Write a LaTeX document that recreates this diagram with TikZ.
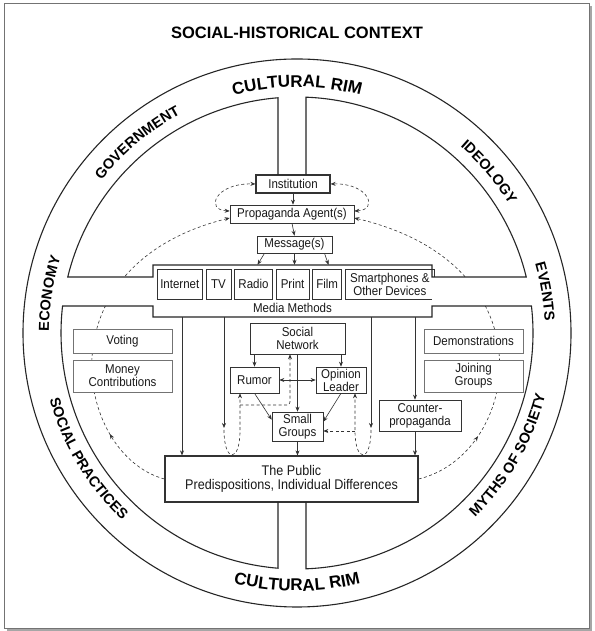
\documentclass[tikz,border=0pt]{standalone}
\usepackage{fontspec}
\setmainfont{Liberation Sans}[FakeStretch=0.9]
\newfontfamily\ringfam{Liberation Sans}
\usetikzlibrary{positioning,arrows.meta,calc,decorations.text,decorations.markings}

\newcommand\boxfont{\fontsize{12.8}{13}\selectfont}
\newcommand\pubfont{\fontsize{14}{14.5}\selectfont}
\newcommand\ringfont{\ringfam\bfseries\fontsize{17}{18}\selectfont}
\newcommand\sidefont{\ringfam\bfseries\fontsize{14.5}{16}\selectfont}

\tikzset{
  blk/.style={draw=black!80, fill=white, line width=0.6pt, inner sep=1pt, align=center, font=\boxfont, text=black!90},
  thickbox/.style={blk, line width=1.2pt},
  sidebox/.style={blk, draw=black!55, line width=0.5pt, minimum width=99pt},
  mitem/.style={blk, minimum height=30pt},
  rim/.style={line width=1.1pt, draw=black!85},
  arr/.style={line width=0.6pt, draw=black!80, -{Stealth[length=5pt,width=4pt]}},
  arrs/.style={line width=0.6pt, draw=black!80, {Stealth[length=5pt,width=4pt]}-{Stealth[length=5pt,width=4pt]}},
  dsh/.style={dash pattern=on 3pt off 2.5pt},
  midarr/.style={postaction={decorate, decoration={markings, mark=at position #1 with {\arrow{Stealth[length=5pt,width=4pt]}}}}},
  ringtext/.style={decorate, decoration={text along path, text align=center, text={|\ringfont|#1}}},
  sidetext/.style={decorate, decoration={text along path, text align=center, text={|\sidefont|#1}}}
}

\begin{document}
\begin{tikzpicture}[x=1pt, y=1pt]
\useasboundingbox (0,0) rectangle (594,631);
% frame with shadow
\fill[black!35] (7,0) rectangle (592,625);
\draw[black!55, fill=white, line width=0.8pt] (4,3) rectangle (589,628);

\def\rin{236}
\def\rout{274}
\def\rtop{246}
\def\rbot{258}
\def\stop{248}
\def\sbot{256}
\coordinate (C) at (297,298);
\pgfmathsetmacro{\aTL}{acos((278-297)/\rin)}
\pgfmathsetmacro{\aTR}{acos((306-297)/\rin)}
\pgfmathsetmacro{\aLU}{180-asin((354-298)/\rin)}
\pgfmathsetmacro{\aLD}{180-asin((325-298)/\rin)}
\pgfmathsetmacro{\aRU}{asin((354-298)/\rin)}
\pgfmathsetmacro{\aRD}{asin((325-298)/\rin)}

\node[font=\ringfam\bfseries\fontsize{16.5}{18}\selectfont] (title) at (297,598) {SOCIAL-HISTORICAL CONTEXT};

% central chain
\node[thickbox, minimum width=74pt, minimum height=18pt] (inst) at (293,447) {Institution};
\node[blk, minimum width=124pt, minimum height=18pt] (agent) at (292,417) {Propaganda Agent(s)};
\node[blk, minimum width=75pt, minimum height=17pt] (msg) at (294.5,386.5) {Message(s)};
\node[minimum width=279pt, minimum height=52pt, inner sep=0pt] (media) at (292.5,340) {};
\node[mitem, minimum width=45pt, anchor=west] (internet) at (157,347) {Internet};
\node[mitem, minimum width=25pt, right=3pt of internet] (tv) {TV};
\node[mitem, minimum width=38pt, right=3pt of tv] (radio) {Radio};
\node[mitem, minimum width=33pt, right=3pt of radio] (print) {Print};
\node[mitem, minimum width=29pt, right=3pt of print] (film) {Film};
\node[mitem, minimum width=89pt, right=3pt of film] (smart) {Smartphones \&\\Other Devices};
\node[font=\boxfont, text=black!90, inner sep=0pt] (mm) at (292.5,323) {Media Methods};

\node[blk, minimum width=95pt, minimum height=31pt] (sn) at (297.5,292.5) {Social\\Network};
\node[blk, minimum width=49pt, minimum height=26pt] (rumor) at (254.5,251) {Rumor};
\node[blk, minimum width=50pt, minimum height=26pt] (ol) at (341,251) {Opinion\\Leader};
\node[blk, minimum width=51pt, minimum height=29pt] (sg) at (297.5,204.5) {Small\\Groups};
\node[blk, minimum width=82pt, minimum height=31pt] (counter) at (420,215.5) {Counter-\\propaganda};
\node[thickbox, minimum width=253pt, minimum height=46pt, font=\pubfont] (pub) at (291.5,152)
  {The Public\\Predispositions, Individual Differences};

% big feedback arcs (drawn first, masked by channels and side boxes)
\draw[arr, dsh, midarr=0.2] (pub.west) .. controls (75,176) and (40,366) .. ([yshift=-4pt]agent.west);
\draw[arr, dsh, midarr=0.2] (pub.east) .. controls (519,176) and (554,366) .. ([yshift=-4pt]agent.east);
\fill[white] (70,325) rectangle (153,354);
\fill[white] (432,325) rectangle (525,354);

% cultural rim
\draw[rim] (C) circle[radius=\rout];
\draw[rim] (278,456) -- ($(C)+(\aTL:\rin)$) arc[start angle=\aTL, end angle=\aLU, radius=\rin]
  -- (153,354) -- (153,366) -- (432,366) -- (432,354)
  -- ($(C)+(\aRU:\rin)$) arc[start angle=\aRU, end angle=\aTR, radius=\rin] -- (306,456);
\draw[rim] (278,129) -- ($(C)+(360-\aTL:\rin)$) arc[start angle=360-\aTL, end angle=\aLD, radius=\rin]
  -- (153,325) -- (153,314) -- (432,314) -- (432,325)
  -- ($(C)+(\aRD:\rin)$) arc[start angle=\aRD, end angle=-\aTR, radius=\rin] -- (306,129);

\path[ringtext=CULTURAL RIM] ($(C)+(135:\rtop)$) arc[start angle=135, end angle=45, radius=\rtop];
\path[sidetext=GOVERNMENT] ($(C)+(175:\stop)$) arc[start angle=175, end angle=85, radius=\stop];
\path[sidetext=IDEOLOGY] ($(C)+(85:\stop)$) arc[start angle=85, end angle=-5, radius=\stop];
\path[sidetext=ECONOMY] ($(C)+(216:\stop)$) arc[start angle=216, end angle=126, radius=\stop];
\path[sidetext=EVENTS] ($(C)+(54.5:\stop)$) arc[start angle=54.5, end angle=-35.5, radius=\stop];
\path[sidetext=SOCIAL PRACTICES] ($(C)+(166:\sbot)$) arc[start angle=166, end angle=256, radius=\sbot];
\path[sidetext=MYTHS OF SOCIETY] ($(C)+(285:\sbot)$) arc[start angle=285, end angle=375, radius=\sbot];
\path[ringtext=CULTURAL RIM] ($(C)+(225:\rbot)$) arc[start angle=225, end angle=315, radius=\rbot];

% behaviours
\node[sidebox, minimum height=24pt] (voting) at (122.5,290) {Voting};
\node[sidebox, minimum height=32pt] (money) at (122.5,255) {Money\\Contributions};
\node[sidebox, minimum height=24pt] (demo) at (473.5,290) {Demonstrations};
\node[sidebox, minimum height=32pt] (joining) at (473.5,255) {Joining\\Groups};

% top of the chain
\draw[arr] (inst.south) -- (inst.south |- agent.north);
\draw[arr] (agent.south) -- (msg.north);
\draw[arrs, dsh] ([yshift=3pt]agent.west) .. controls (205,421) and (215,448) .. (inst.west);
\draw[arrs, dsh] ([yshift=3pt]agent.east) .. controls (379,421) and (369,448) .. (inst.east);
\draw[arr] ([xshift=-30pt]msg.south) -- ([xshift=-35pt]media.north);
\draw[arr] (msg.south) -- (msg.south |- media.north);
\draw[arr] ([xshift=30pt]msg.south) -- ([xshift=36pt]media.north);

% media to the public
\coordinate (lt) at (224,203);
\coordinate (rt) at (371,203);
\coordinate (lj) at (240,226);
\coordinate (rj) at (355,200);
\draw[arr] ([xshift=-110.5pt]media.south) -- ([xshift=-110.5pt]media.south |- pub.north);
\draw[arr] (media.south -| lt) -- (lt);
\draw[arr] (media.south -| rt) -- (rt);
\draw[arr] ([xshift=122.5pt]media.south) -- ([xshift=-5pt]counter.north);
\draw[arr] ([xshift=-5pt]counter.south) -- ([xshift=-5pt]counter.south |- pub.north);

% social network
\draw[arr] (sn.south -| rumor.north) -- (rumor.north);
\draw[arr] (sn.south -| ol.north) -- (ol.north);
\draw[arr] (sn.south) -- (sg.north);
\draw[arrs] (rumor.east) -- (ol.west);
\draw[arr] (rumor.south) -- ([yshift=-8pt]sg.north west);
\draw[arr] (ol.south) -- ([yshift=-10pt]sg.north east);
\draw[arr] (sg.south) -- (sg.south |- pub.north);

% feedback from the public
\draw[arr, dsh] ([yshift=-2pt]lt) .. controls (224,168) and (240,168) .. (240,200) -- ([xshift=-14.5pt]rumor.south);
\draw[arr, dsh, rounded corners=3pt] (lj) -| ([xshift=-7.5pt]sn.south);
\draw[arr, dsh] ([yshift=-2pt]rt) .. controls (371,168) and (355,168) .. (355,200) -- ([xshift=14pt]ol.south);
\draw[arr, dsh] (rj) -- (rj -| sg.east);
\end{tikzpicture}
\end{document}
